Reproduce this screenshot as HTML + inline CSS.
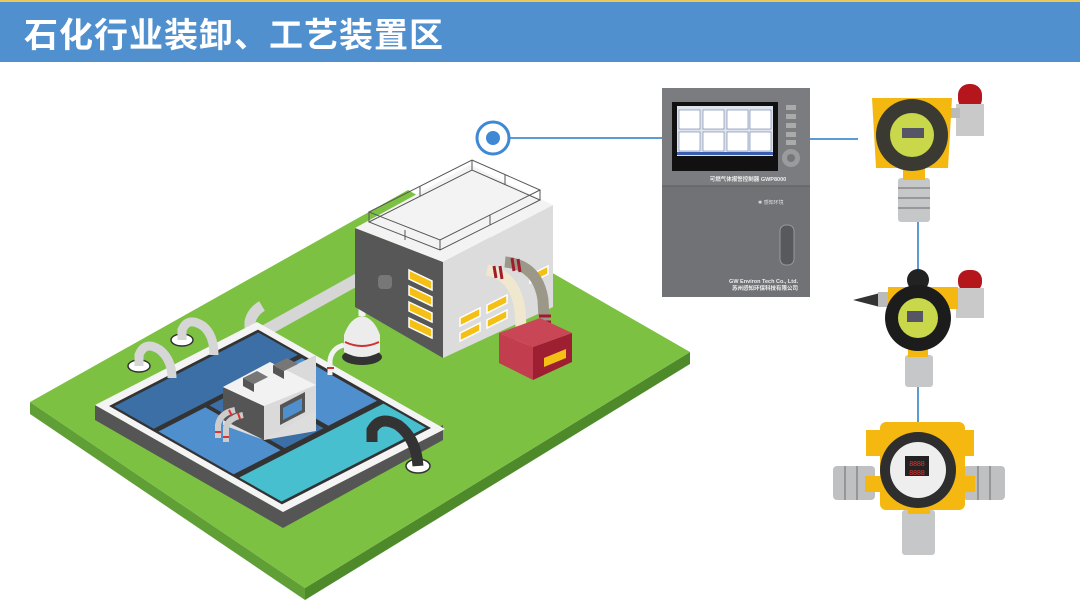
<!DOCTYPE html>
<html><head><meta charset="utf-8"><style>
body{margin:0;width:1080px;height:609px;overflow:hidden;background:#fff;font-family:"Liberation Sans","Noto Sans CJK SC",sans-serif;}
#bar{position:absolute;left:0;top:0;width:1080px;height:62px;background:#5190cf;border-top:2px solid #e8c85a;box-sizing:border-box;}
#bar span{position:absolute;left:24px;top:6px;font-size:34px;font-weight:bold;color:#fff;letter-spacing:1px;font-family:"Liberation Sans","Noto Sans CJK SC",sans-serif;}
svg{position:absolute;left:0;top:0}
</style></head><body>
<div id="bar"><span>石化行业装卸、工艺装置区</span></div>
<svg width="1080" height="609" viewBox="0 0 1080 609">
<line x1="510" y1="138" x2="662" y2="138" stroke="#5a9bd5" stroke-width="2"/>
<line x1="810" y1="139" x2="858" y2="139" stroke="#5a9bd5" stroke-width="2"/>
<line x1="918" y1="220" x2="918" y2="270" stroke="#5a9bd5" stroke-width="2"/>
<line x1="918" y1="385" x2="918" y2="430" stroke="#5a9bd5" stroke-width="2"/>
<circle cx="493" cy="138" r="16" fill="#fff" stroke="#3f88d4" stroke-width="3"/>
<circle cx="493" cy="138" r="7" fill="#3f88d4"/>

<polygon points="30,402 305,588 305,600 30,414" fill="#5f9f35"/>
<polygon points="305,588 690,352 690,364 305,600" fill="#4f8a2a"/>
<polygon points="30,402 408,190 690,352 305,588" fill="#7dc142"/>

<path d="M252,338 L360,278" stroke="#d6d6d6" stroke-width="12" fill="none"/>
<path d="M250,348 L250,322 Q252,312 262,306" stroke="#d6d6d6" stroke-width="11" fill="none"/>

<polygon points="95,405 283,512 443,425 443,440 283,528 95,420" fill="#555"/>
<g transform="matrix(188,107,162,-83,95,405)">
<rect x="0" y="0" width="1" height="1" fill="#f4f4f4"/>
<rect x="0.04" y="0.04" width="0.92" height="0.92" fill="#333"/>
<rect x="0.055" y="0.055" width="0.21" height="0.89" fill="#3b6fa5"/>
<rect x="0.29" y="0.055" width="0.4" height="0.29" fill="#4f8fce"/>
<rect x="0.29" y="0.37" width="0.4" height="0.24" fill="#3b6fa5"/>
<rect x="0.29" y="0.64" width="0.4" height="0.3" fill="#4f8fce"/>
<rect x="0.72" y="0.055" width="0.225" height="0.89" fill="#48bfcf"/>
</g>
<polygon points="223,387 264,366 316,385 316,431 264,440 223,425" fill="#ddd"/>
<polygon points="264,380 316,355 316,410 264,440" fill="#dadada"/>
<polygon points="223,387 264,406 264,440 223,420" fill="#555"/>
<polygon points="223,387 270,362 316,385 264,406" fill="#f2f2f2"/>
<polygon points="243,378 257,371 268,377 254,384" fill="#777"/><polygon points="243,378 254,384 254,392 243,386" fill="#555"/>
<polygon points="273,365 287,358 298,364 284,371" fill="#777"/><polygon points="273,365 284,371 284,379 273,373" fill="#555"/>
<polygon points="280,405 305,392 305,412 280,425" fill="#555"/><polygon points="283,408 302,398 302,410 283,420" fill="#4f8fce"/>
<path d="M218,438 L218,425 Q220,413 235,410" stroke="#ccc" stroke-width="6" fill="none"/>
<path d="M226,442 L226,428 Q228,418 243,415" stroke="#ccc" stroke-width="6" fill="none"/>
<g stroke="#d33" stroke-width="2"><line x1="215" y1="432" x2="221" y2="432"/><line x1="223" y1="437" x2="229" y2="437"/><line x1="229" y1="410" x2="232" y2="416"/><line x1="238" y1="413" x2="240" y2="419"/></g>
<ellipse cx="139" cy="366" rx="11" ry="6" fill="#fff" stroke="#333" stroke-width="1.5"/>
<path d="M139,366 L139,355 Q145,340 160,350 Q172,360 172,378" stroke="#d6d6d6" stroke-width="9" fill="none"/>
<ellipse cx="182" cy="340" rx="11" ry="6" fill="#fff" stroke="#333" stroke-width="1.5"/>
<path d="M182,340 L182,330 Q188,316 203,326 Q214,335 214,355" stroke="#d6d6d6" stroke-width="9" fill="none"/>
<ellipse cx="418" cy="466" rx="12" ry="7" fill="#fff" stroke="#333" stroke-width="1.5"/>
<path d="M372,442 L372,430 Q380,415 398,425 Q416,438 418,466" stroke="#333" stroke-width="11" fill="none"/>
<ellipse cx="362" cy="357" rx="20" ry="8" fill="#333"/>
<path d="M344,352 L344,335 Q350,318 362,316 Q374,318 380,335 L380,352 Q362,362 344,352Z" fill="#ececec"/>
<path d="M345,342 Q362,350 379,342" stroke="#c33" stroke-width="2" fill="none"/>
<path d="M362,316 L362,295 Q363,280 378,278" stroke="#f2f2f2" stroke-width="7" fill="none"/>
<path d="M344,345 Q332,348 330,360 L330,375" stroke="#f2f2f2" stroke-width="5" fill="none"/>
<line x1="327" y1="368" x2="334" y2="368" stroke="#c33" stroke-width="2"/>
<polygon points="355,228 443,262 443,358 355,307" fill="#575757"/>
<polygon points="443,262 553,205 553,307 443,358" fill="#dcdcdc"/>
<polygon points="355,228 470,165 553,205 443,262" fill="#f3f3f3"/>
<polygon points="369,222 472,170 540,200 440,250" fill="none" stroke="#555" stroke-width="1"/>
<polygon points="369,212 472,160 540,190 440,240" fill="none" stroke="#555" stroke-width="1"/>
<g stroke="#555" stroke-width="1"><line x1="369" y1="212" x2="369" y2="222"/><line x1="472" y1="160" x2="472" y2="170"/><line x1="540" y1="190" x2="540" y2="200"/><line x1="440" y1="240" x2="440" y2="250"/><line x1="405" y1="230" x2="405" y2="240"/><line x1="420" y1="186" x2="420" y2="196"/><line x1="505" y1="175" x2="505" y2="185"/><line x1="490" y1="215" x2="490" y2="225"/></g>
<rect x="378" y="275" width="14" height="14" rx="4" fill="#777"/>
<g fill="#f5c016" stroke="#fff" stroke-width="1.5">
<polygon points="409,270 432,281 432,290 409,279"/><polygon points="409,286 432,297 432,306 409,295"/><polygon points="409,302 432,313 432,322 409,311"/><polygon points="409,318 432,329 432,338 409,327"/>
<polygon points="460,318 480,308 480,316 460,326"/><polygon points="460,333 480,323 480,331 460,341"/><polygon points="487,305 507,295 507,303 487,313"/><polygon points="487,320 507,310 507,318 487,328"/><polygon points="530,275 548,266 548,274 530,283"/>
</g>
<path d="M487,270 Q515,275 520,310 L522,345" stroke="#efe8cf" stroke-width="11" fill="none"/>
<path d="M505,262 Q538,265 543,300 L545,335" stroke="#9b988a" stroke-width="11" fill="none"/>
<g stroke="#a01c2c" stroke-width="3"><line x1="494" y1="266" x2="496" y2="278"/><line x1="500" y1="266" x2="502" y2="279"/><line x1="512" y1="258" x2="514" y2="271"/><line x1="518" y1="259" x2="520" y2="272"/><line x1="516" y1="328" x2="528" y2="328"/><line x1="516" y1="334" x2="528" y2="334"/><line x1="539" y1="316" x2="551" y2="316"/><line x1="539" y1="322" x2="551" y2="322"/></g>
<polygon points="499,333 533,347 533,380 499,363" fill="#c23d4e"/>
<polygon points="533,347 572,333 572,362 533,380" fill="#9e1f31"/>
<polygon points="499,333 540,318 572,333 533,347" fill="#c94656"/>
<polygon points="544,358 566,349 566,358 544,367" fill="#f5c016"/>

<rect x="662" y="88" width="148" height="209" fill="#717275"/>
<rect x="662" y="88" width="148" height="98" fill="#7b7c7f"/>
<line x1="662" y1="186" x2="810" y2="186" stroke="#5c5d60"/>
<rect x="672" y="102" width="106" height="69" fill="#111"/>
<rect x="677" y="106" width="96" height="50" fill="#dfe3ea"/>
<g fill="#fff" stroke="#6a7fa8" stroke-width="0.6">
<rect x="679" y="110" width="21" height="19"/><rect x="703" y="110" width="21" height="19"/><rect x="727" y="110" width="21" height="19"/><rect x="750" y="110" width="21" height="19"/>
<rect x="679" y="132" width="21" height="19"/><rect x="703" y="132" width="21" height="19"/><rect x="727" y="132" width="21" height="19"/><rect x="750" y="132" width="21" height="19"/></g>
<rect x="677" y="152" width="96" height="3" fill="#3a5fb0"/>
<g fill="#aaa"><rect x="786" y="105" width="10" height="5"/><rect x="786" y="114" width="10" height="5"/><rect x="786" y="123" width="10" height="5"/><rect x="786" y="132" width="10" height="5"/><rect x="786" y="140" width="10" height="5"/></g>
<circle cx="791" cy="158" r="9" fill="#9a9b9e"/><circle cx="791" cy="158" r="4" fill="#777"/>
<text x="748" y="181" font-size="5.5" fill="#eee" text-anchor="middle" font-weight="bold">可燃气体报警控制器 GWP8000</text>
<text x="758" y="204" font-size="5" fill="#ddd">✱ 感知环境</text>
<rect x="780" y="225" width="14" height="40" rx="6" fill="#58595c" stroke="#999"/>
<text x="798" y="283" font-size="5.5" fill="#eee" text-anchor="end" font-weight="bold">GW Environ Tech Co., Ltd.</text>
<text x="798" y="290" font-size="5.5" fill="#eee" text-anchor="end" font-weight="bold">苏州感知环保科技有限公司</text>

<rect x="958" y="84" width="24" height="26" rx="11" fill="#b5161c"/>
<rect x="956" y="104" width="28" height="32" fill="#c9c9c9"/>
<rect x="930" y="108" width="30" height="10" fill="#bbb"/>
<polygon points="872,98 952,98 948,168 876,168" fill="#f4b810"/>
<rect x="898" y="178" width="32" height="44" rx="3" fill="#c6c7c9"/>
<g stroke="#888" stroke-width="1.5"><line x1="898" y1="188" x2="930" y2="188"/><line x1="898" y1="198" x2="930" y2="198"/><line x1="898" y1="208" x2="930" y2="208"/></g>
<rect x="903" y="166" width="22" height="14" fill="#f4b810"/>
<circle cx="912" cy="135" r="36" fill="#3a3a32"/>
<circle cx="912" cy="135" r="22" fill="#c8d84a"/>
<rect x="902" y="128" width="22" height="10" fill="#556"/>
<rect x="958" y="270" width="24" height="22" rx="10" fill="#b5161c"/>
<rect x="956" y="288" width="28" height="30" fill="#c9c9c9"/>
<polygon points="853,300 880,293 880,307" fill="#333"/>
<rect x="878" y="292" width="12" height="15" fill="#bbb"/>
<rect x="888" y="287" width="70" height="22" fill="#f4b810"/>
<rect x="905" y="355" width="28" height="32" rx="3" fill="#c6c7c9"/>
<rect x="908" y="340" width="20" height="17" fill="#f4b810"/>
<circle cx="918" cy="280" r="11" fill="#222"/>
<circle cx="918" cy="318" r="33" fill="#1c1c1c"/>
<circle cx="918" cy="318" r="20" fill="#c8d84a"/>
<rect x="907" y="311" width="16" height="11" fill="#556"/>
<rect x="833" y="466" width="42" height="34" rx="4" fill="#bfc0c2"/>
<rect x="963" y="466" width="42" height="34" rx="4" fill="#bfc0c2"/>
<g stroke="#888" stroke-width="1.5"><line x1="845" y1="466" x2="845" y2="500"/><line x1="857" y1="466" x2="857" y2="500"/><line x1="978" y1="466" x2="978" y2="500"/><line x1="990" y1="466" x2="990" y2="500"/></g>
<rect x="880" y="422" width="85" height="88" rx="6" fill="#f4b810"/>
<rect x="866" y="430" width="16" height="26" fill="#f4b810"/>
<rect x="958" y="430" width="16" height="26" fill="#f4b810"/>
<rect x="865" y="476" width="110" height="16" fill="#f4b810"/>
<rect x="902" y="510" width="33" height="45" rx="3" fill="#c6c7c9"/>
<rect x="908" y="502" width="22" height="12" fill="#f4b810"/>
<circle cx="918" cy="470" r="38" fill="#2e2e2e"/>
<circle cx="918" cy="470" r="28" fill="#eeeeee"/>
<rect x="905" y="456" width="24" height="20" fill="#222"/>
<text x="917" y="466" font-size="7" fill="#e33" text-anchor="middle">8888</text>
<text x="917" y="475" font-size="7" fill="#e33" text-anchor="middle">8888</text>
</svg>
</body></html>
